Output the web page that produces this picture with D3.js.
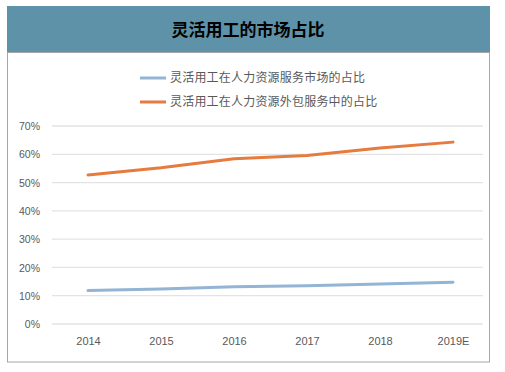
<!DOCTYPE html>
<html><head><meta charset="utf-8">
<script src="https://cdn.jsdelivr.net/npm/d3@7"></script>
<style>body{margin:0;background:#fff;}svg{display:block;}</style>
</head><body>
<svg id="c" width="505" height="372"></svg>
<script>
const title = "灵活用工的市场占比";
const categories = ["2014","2015","2016","2017","2018","2019E"];
const seriesNames = ["灵活用工在人力资源服务市场的占比","灵活用工在人力资源外包服务中的占比"];
const hrServiceShare = [11.8, 12.4, 13.2, 13.5, 14.1, 14.8];
const outsourcingShare = [52.7, 55.2, 58.4, 59.6, 62.2, 64.3];
const yTicks = [0,10,20,30,40,50,60,70];
const colors = ["#93b4d4", "#e57b3e"];

const svg = d3.select("#c");
// frame
svg.append("rect").attr("x",7.5).attr("y",6.5).attr("width",482).attr("height",355.5)
  .attr("fill","#fff").attr("stroke","#a6a6a6").attr("stroke-width",1);
svg.append("rect").attr("x",7).attr("y",6).attr("width",483).attr("height",46).attr("fill","#5e92a8");
svg.append("line").attr("x1",7).attr("x2",490).attr("y1",52.5).attr("y2",52.5).attr("stroke","#a6a6a6");
svg.append("text").attr("x",248).attr("y",35.5).attr("text-anchor","middle")
  .attr("font-family","'Noto Sans CJK SC'").attr("font-weight","bold").attr("font-size",17)
  .attr("fill","#000").text(title);

const x = d3.scalePoint().domain(categories).range([88,453]);
const y = d3.scaleLinear().domain([0,70]).range([324,126]);

// gridlines
const g = svg.append("g");
g.selectAll("line.grid").data(yTicks).join("line").attr("class","grid")
  .attr("x1",52).attr("x2",483).attr("y1",d=>y(d)).attr("y2",d=>y(d))
  .attr("stroke","#e3e3e3").attr("stroke-width",1.3);

const yAxis = d3.axisLeft(y).tickValues(yTicks).tickFormat(d=>d+"%").tickSize(0).tickPadding(0);
const ya = svg.append("g").attr("transform","translate(40,0)").call(yAxis);
ya.select(".domain").remove();
ya.selectAll("text").attr("font-family","'Liberation Sans', Arial").attr("font-size",10.5).attr("fill","#595959").attr("dy","0.35em");

const xAxis = d3.axisBottom(x).tickSize(0).tickPadding(0);
const xa = svg.append("g").attr("transform","translate(0,337)").call(xAxis);
xa.select(".domain").remove();
xa.selectAll("text").attr("font-family","'Liberation Sans', Arial").attr("font-size",11).attr("fill","#595959").attr("dy","0.75em");

const line = d3.line().x((d,i)=>x(categories[i])).y(d=>y(d));
[hrServiceShare, outsourcingShare].forEach((s,k)=>{
  svg.append("path").datum(s).attr("d",line).attr("fill","none")
    .attr("stroke",colors[k]).attr("stroke-width",3).attr("stroke-linecap","round");
});

// legend
const lg = svg.append("g");
seriesNames.forEach((n,k)=>{
  const yy = 78 + k*24;
  lg.append("line").attr("x1",140).attr("x2",166).attr("y1",yy).attr("y2",yy)
    .attr("stroke",colors[k]).attr("stroke-width",3);
  lg.append("text").attr("x",170).attr("y",yy).attr("dy","0.36em")
    .attr("font-family","'Noto Sans CJK SC'").attr("font-size",12).attr("letter-spacing",0.2)
    .attr("fill","#595959").text(n);
});
</script>
</body></html>
